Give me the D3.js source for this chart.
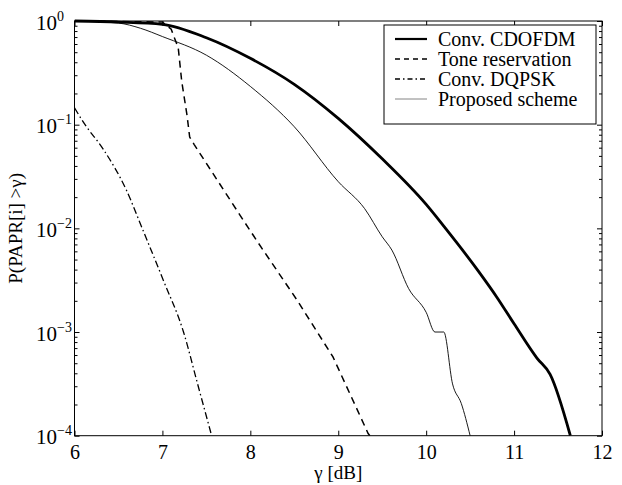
<!DOCTYPE html>
<html>
<head>
<meta charset="utf-8">
<script src="https://cdn.jsdelivr.net/npm/d3@7"></script>
<style>
  body { margin: 0; background: #fff; }
  svg text { font-family: "Liberation Serif", serif; fill: #000; }
</style>
</head>
<body>
<div id="chart"></div>
<script>
// values (gamma in dB, probability)
var cdofdmX = [6, 6.5, 7, 7.5, 8, 8.5, 9, 9.5, 10, 10.2, 10.6, 10.8, 11.0, 11.26, 11.41, 11.64];
var cdofdmP = [1, 0.977, 0.93, 0.69, 0.437, 0.245, 0.115, 0.0468, 0.017, 0.0105, 0.0038, 0.00219, 0.0012, 0.00056, 0.00039, 0.0001];

var toneX = [6, 7.0, 7.1, 7.18, 7.22, 7.28, 7.31, 7.36, 7.88, 8.09, 8.53, 8.94, 9.34, 9.36];
var toneP = [1, 0.977, 0.832, 0.55, 0.26, 0.123, 0.0759, 0.0646, 0.0135, 0.00724, 0.00204, 0.000575, 0.000105, 0.0001];

var dqpskX = [6.0, 6.12, 6.33, 6.59, 6.77, 7.01, 7.24, 7.40, 7.56];
var dqpskP = [0.145, 0.1, 0.0575, 0.0234, 0.01, 0.00316, 0.001, 0.000316, 0.0001];

var propX = [6, 6.5, 6.75, 7, 7.5, 8, 8.5, 9, 9.3, 9.5, 9.61, 9.8, 10.0, 10.1, 10.2, 10.3, 10.4, 10.5];
var propP = [1, 0.955, 0.851, 0.708, 0.468, 0.234, 0.0955, 0.0282, 0.0155, 0.0083, 0.00617, 0.00263, 0.00155, 0.001, 0.001, 0.000316, 0.000204, 0.0001];

var xTicks = [6, 7, 8, 9, 10, 11, 12];
var yExps = [0, -1, -2, -3, -4];
var legendNames = ["Conv. CDOFDM", "Tone reservation", "Conv. DQPSK", "Proposed scheme"];

var FONT = "'Liberation Serif', serif";

function drawChart(object) {
  var W = 622, H = 485;
  var left = 74.5, right = 602, top = 21, bottom = 435.7;

  var svg = d3.select(object).append("svg")
    .attr("width", W)
    .attr("height", H)
    .style("font-family", FONT);

  var x = d3.scaleLinear().domain([6, 12]).range([left, right]);
  var y = d3.scaleLog().domain([1e-4, 1]).range([bottom, top]);

  var majors = yExps.map(function(e) { return Math.pow(10, e); });
  var minors = [];
  for (var e = -4; e < 0; e++) {
    for (var m = 2; m <= 9; m++) minors.push(m * Math.pow(10, e));
  }

  // plot box
  svg.append("rect")
    .attr("x", left).attr("y", top)
    .attr("width", right - left).attr("height", bottom - top)
    .style("fill", "none").style("stroke", "#000").style("stroke-width", 1);

  // axes, ticks pointing inward
  var gB = svg.append("g").attr("transform", "translate(0," + bottom + ")")
    .call(d3.axisBottom(x).tickValues(xTicks).tickSize(-5).tickPadding(9).tickFormat(d3.format("d")));
  svg.append("g").attr("transform", "translate(0," + top + ")")
    .call(d3.axisTop(x).tickValues(xTicks).tickSize(-5).tickFormat(""));

  var gL = svg.append("g").attr("transform", "translate(" + left + ",0)")
    .call(d3.axisLeft(y).tickValues(majors).tickSize(-5).tickFormat(""));
  svg.append("g").attr("transform", "translate(" + left + ",0)")
    .call(d3.axisLeft(y).tickValues(minors).tickSize(-3).tickFormat(""));
  svg.append("g").attr("transform", "translate(" + right + ",0)")
    .call(d3.axisRight(y).tickValues(majors).tickSize(-5).tickFormat(""));
  svg.append("g").attr("transform", "translate(" + right + ",0)")
    .call(d3.axisRight(y).tickValues(minors).tickSize(-3).tickFormat(""));

  svg.selectAll(".domain").remove();
  svg.selectAll(".tick line").style("stroke", "#000");
  svg.selectAll("g").attr("font-family", null);
  gB.selectAll("text").style("font-size", "20px").style("font-family", FONT);

  // 10^n labels
  gL.selectAll(".tick").each(function(d) {
    var ex = Math.round(Math.log10(d));
    var t = d3.select(this).append("text")
      .attr("x", -38.5).attr("y", 8)
      .style("text-anchor", "start")
      .style("font-family", FONT)
      .style("font-size", "21px");
    t.append("tspan").text("10");
    t.append("tspan").attr("dy", -9).style("font-size", "14px")
      .text(ex === 0 ? "0" : "\u2212" + Math.abs(ex));
  });

  // axis titles
  svg.append("text")
    .attr("x", (left + right) / 2).attr("y", 479)
    .style("text-anchor", "middle").style("font-size", "19px")
    .style("font-family", FONT)
    .text("\u03b3 [dB]");
  svg.append("text")
    .attr("transform", "translate(22," + ((top + bottom) / 2) + ") rotate(-90)")
    .style("text-anchor", "middle").style("font-size", "19px")
    .style("font-family", FONT)
    .text("P(PAPR[i] >\u03b3)");

  // curves
  svg.append("clipPath").attr("id", "clip")
    .append("rect").attr("x", left).attr("y", top - 2)
    .attr("width", right - left).attr("height", bottom - top + 2);

  var series = [
    { xs: cdofdmX, ps: cdofdmP, w: 2.8, dash: null, curve: d3.curveMonotoneX },
    { xs: toneX,   ps: toneP,   w: 1.5, dash: "7,5", curve: d3.curveLinear },
    { xs: dqpskX,  ps: dqpskP,  w: 1.3, dash: "7,3,1.5,3", curve: d3.curveMonotoneX },
    { xs: propX,   ps: propP,   w: 0.9, dash: null, curve: d3.curveMonotoneX }
  ];

  series.forEach(function(s) {
    var line = d3.line()
      .x(function(d) { return x(d[0]); })
      .y(function(d) { return y(d[1]); })
      .curve(s.curve);
    svg.append("path")
      .datum(d3.zip(s.xs, s.ps))
      .attr("clip-path", "url(#clip)")
      .attr("d", line)
      .style("fill", "none")
      .style("stroke", "#000")
      .style("stroke-width", s.w)
      .style("stroke-dasharray", s.dash);
  });

  // legend
  var lg = svg.append("g");
  lg.append("rect")
    .attr("x", 384).attr("y", 25)
    .attr("width", 596 - 384).attr("height", 124 - 25)
    .style("fill", "#fff").style("stroke", "#000").style("stroke-width", 1);

  legendNames.forEach(function(name, i) {
    var ly = 39 + i * 20;
    lg.append("line")
      .attr("x1", 395).attr("x2", 427)
      .attr("y1", ly).attr("y2", ly)
      .style("stroke", i === 3 ? "#777" : "#000")
      .style("stroke-width", i === 0 ? 2.2 : (i === 3 ? 0.9 : 1.3))
      .style("stroke-dasharray", i === 1 ? "5,4" : (i === 2 ? "5,3,1.5,3" : null));
    lg.append("text")
      .attr("x", 438).attr("y", ly + 7)
      .style("font-size", "20px")
      .style("font-family", FONT)
      .text(name);
  });
}

drawChart("#chart");
</script>
</body>
</html>
